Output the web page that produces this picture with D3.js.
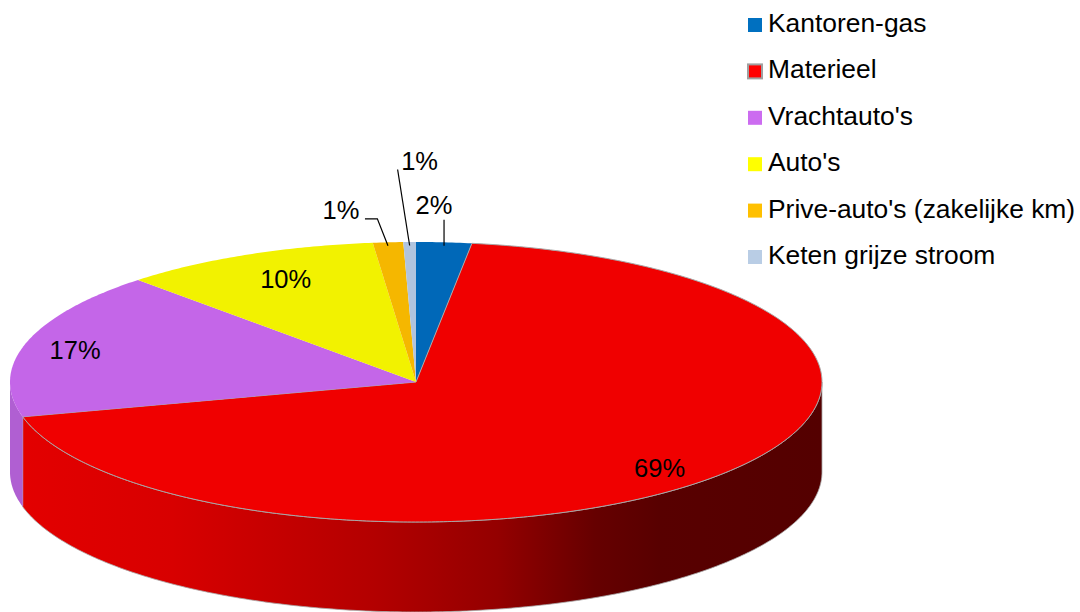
<!DOCTYPE html>
<html>
<head>
<meta charset="utf-8">
<script src="https://cdn.jsdelivr.net/npm/d3@7"></script>
<style>
  html, body { margin: 0; padding: 0; background: #ffffff; }
  svg { display: block; }
  text { font-family: "Liberation Sans", Arial, sans-serif; fill: #000; }
</style>
</head>
<body>
<svg id="chart" width="1080" height="612"></svg>
<script>
// ---- data ----
const categories = ["Kantoren-gas", "Materieel", "Vrachtauto's", "Auto's", "Prive-auto's (zakelijke km)", "Keten grijze stroom"];
const values = [2.2, 68.8, 17.0, 10.3, 1.2, 0.5];
const topColors = ["#0068b8", "#f00000", "#c466e8", "#f2f200", "#f5b700", "#b0c4de"];
const legendColors = ["#0070c0", "#ff0000", "#cc6cf0", "#ffff00", "#ffc000", "#b9cde5"];
const wallColors = ["#00508f", "url(#redWall)", "#b05fd2", "#c8c800", "#c99700", "#90a4be"];

// ---- layout ----
const W = 1080, H = 612;
const cx = 416, cy = 382, rx = 406, ry = 140, depth = 90;

const svg = d3.select("#chart");
const defs = svg.append("defs");
const grad = defs.append("linearGradient")
  .attr("id", "redWall").attr("gradientUnits", "userSpaceOnUse")
  .attr("x1", cx - rx).attr("x2", cx + rx).attr("y1", 0).attr("y2", 0);
[[0, "#e40000"], [0.2, "#d80000"], [0.45, "#b30000"], [0.6, "#940000"], [0.72, "#660000"], [0.8, "#580000"], [1, "#540000"]]
  .forEach(([o, c]) => grad.append("stop").attr("offset", o).attr("stop-color", c));

const pie = d3.pie().sort(null).value(d => d).startAngle(0).endAngle(2 * Math.PI);
const arcs = pie(values);

function pt(a, r = 1, dy = 0) {
  return [cx + rx * r * Math.sin(a), cy - ry * r * Math.cos(a) + dy];
}
function sample(a0, a1, dy) {
  const n = Math.max(2, Math.ceil(Math.abs(a1 - a0) / 0.01));
  return d3.range(n + 1).map(i => pt(a0 + (a1 - a0) * i / n, 1, dy));
}
const line = d3.line();

// ---- walls (front half only) ----
const wallG = svg.append("g");
arcs.forEach((d, i) => {
  const a0 = Math.max(d.startAngle, Math.PI / 2);
  const a1 = Math.min(d.endAngle, 3 * Math.PI / 2);
  if (a1 <= a0) return;
  const pts = sample(a0, a1, 0).concat(sample(a1, a0, depth));
  wallG.append("path")
    .attr("d", line(pts) + "Z")
    .attr("fill", wallColors[i])
    .attr("stroke", i === 1 ? "#a8a8a8" : "none")
    .attr("stroke-width", i === 1 ? 0.8 : 0);
});

// ---- top slices ----
const topG = svg.append("g");
arcs.forEach((d, i) => {
  const pts = [[cx, cy]].concat(sample(d.startAngle, d.endAngle, 0));
  topG.append("path")
    .attr("d", line(pts) + "Z")
    .attr("fill", topColors[i])
    .attr("stroke", i === 1 ? "#a8a8a8" : "none")
    .attr("stroke-width", i === 1 ? 1 : 0)
    .attr("stroke-linejoin", "round");
});

// ---- labels ----
const labelG = svg.append("g");
const fmt = v => Math.round(v) + "%";
// inside label tweaks: [angle shift (deg), radius factor]
const insideCfg = { 1: [4, 0.86], 2: [-1, 0.87], 3: [1, 0.80] };
// outside label config: leader path offsets from anchor and label offset
const outsideCfg = {
  0: { path: [[0, -26]], label: [-10, -32] },
  4: { path: [[-10.6, -27], [-23, -27]], label: [-47, -27] },
  5: { path: [[-12, -76]], label: [10, -75.5] }
};
arcs.forEach((d, i) => {
  const mid = (d.startAngle + d.endAngle) / 2;
  if (insideCfg[i]) {
    const [shift, r] = insideCfg[i];
    const [x, y] = pt(mid + shift * Math.PI / 180, r);
    labelG.append("text")
      .attr("x", x).attr("y", y).attr("dy", "0.35em")
      .attr("text-anchor", "middle").attr("font-size", 25.5)
      .text(fmt(values[i]));
  } else if (outsideCfg[i]) {
    const cfg = outsideCfg[i];
    const [ax, ay0] = pt(mid, 1);
    const ay = ay0 + 3.5;
    const pts = [[ax, ay]].concat(cfg.path.map(([dx, dy]) => [ax + dx, ay + dy]));
    labelG.append("path").attr("d", line(pts))
      .attr("fill", "none").attr("stroke", "#000").attr("stroke-width", 1.2);
    labelG.append("text")
      .attr("x", ax + cfg.label[0]).attr("y", ay + cfg.label[1])
      .attr("text-anchor", "middle").attr("font-size", 25.5)
      .text(fmt(values[i]));
  }
});

// ---- legend ----
const legend = svg.append("g");
categories.forEach((c, i) => {
  const yc = 25 + i * 46.4;
  legend.append("rect")
    .attr("x", 748).attr("y", yc - 7).attr("width", 14).attr("height", 14)
    .attr("fill", legendColors[i])
    .attr("stroke", i === 1 ? "#a0a0a0" : "none")
    .attr("stroke-width", i === 1 ? 2 : 0);
  legend.append("text")
    .attr("x", 768).attr("y", yc + 7)
    .attr("font-size", 26.4)
    .text(c);
});
</script>
</body>
</html>
